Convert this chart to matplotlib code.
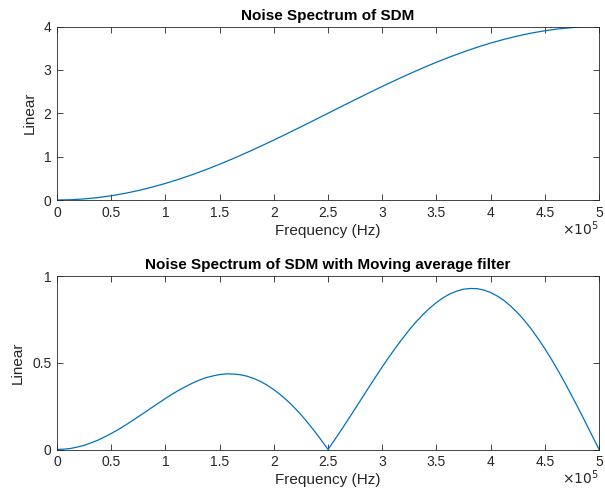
import matplotlib.pyplot as plt

plt.rcParams['font.family'] = ['Liberation Sans', 'DejaVu Sans']

# frequency points (Hz), top panel
freq = [0, 12500, 25000, 37500, 50000, 62500, 75000, 87500, 100000,
        112500, 125000, 137500, 150000, 162500, 175000, 187500, 200000,
        212500, 225000, 237500, 250000, 262500, 275000, 287500, 300000,
        312500, 325000, 337500, 350000, 362500, 375000, 387500, 400000,
        412500, 425000, 437500, 450000, 462500, 475000, 487500, 500000]

# noise spectrum of SDM (linear)
sdm = [0.000, 0.006, 0.025, 0.055, 0.098, 0.152, 0.218, 0.295, 0.382,
       0.479, 0.586, 0.701, 0.824, 0.955, 1.092, 1.235, 1.382,
       1.533, 1.687, 1.843, 2.000, 2.157, 2.313, 2.467, 2.618,
       2.765, 2.908, 3.045, 3.176, 3.299, 3.414, 3.521, 3.618,
       3.705, 3.782, 3.848, 3.902, 3.945, 3.975, 3.994, 4.000]

# frequency points (Hz), bottom panel
freq_ma = [0, 6250, 12500, 18750, 25000, 31250, 37500, 43750, 50000,
           56250, 62500, 68750, 75000, 81250, 87500, 93750, 100000,
           106250, 112500, 118750, 125000, 131250, 137500, 143750, 150000,
           156250, 162500, 168750, 175000, 181250, 187500, 193750, 200000,
           206250, 212500, 218750, 225000, 231250, 237500, 243750, 250000,
           256250, 262500, 268750, 275000, 281250, 287500, 293750, 300000,
           306250, 312500, 318750, 325000, 331250, 337500, 343750, 350000,
           356250, 362500, 368750, 375000, 381250, 387500, 393750, 400000,
           406250, 412500, 418750, 425000, 431250, 437500, 443750, 450000,
           456250, 462500, 468750, 475000, 481250, 487500, 493750, 500000]

# noise spectrum after moving average filter (linear)
sdm_ma = [0.000, 0.002, 0.006, 0.014, 0.024, 0.038, 0.053, 0.072, 0.092,
          0.114, 0.138, 0.163, 0.189, 0.215, 0.242, 0.268, 0.294,
          0.319, 0.342, 0.363, 0.383, 0.400, 0.414, 0.424, 0.432,
          0.436, 0.435, 0.431, 0.423, 0.410, 0.393, 0.371, 0.345,
          0.315, 0.281, 0.243, 0.201, 0.155, 0.106, 0.054, 0.000,
          0.057, 0.115, 0.175, 0.235, 0.296, 0.357, 0.417, 0.476,
          0.533, 0.588, 0.640, 0.690, 0.736, 0.777, 0.815, 0.847,
          0.875, 0.897, 0.913, 0.924, 0.928, 0.927, 0.919, 0.905,
          0.884, 0.858, 0.825, 0.787, 0.743, 0.694, 0.639, 0.581,
          0.518, 0.451, 0.381, 0.308, 0.233, 0.156, 0.078, 0.000]

xticks = [0, 50000, 100000, 150000, 200000, 250000, 300000, 350000, 400000, 450000, 500000]
xticklabels = ['0', '0.5', '1', '1.5', '2', '2.5', '3', '3.5', '4', '4.5', '5']

line_color = '#0072BD'
axis_color = '#262626'

fig = plt.figure(figsize=(6.05, 5.0), dpi=100)
ax1 = fig.add_axes([0.0942, 0.600, 0.896, 0.347])
ax2 = fig.add_axes([0.0942, 0.101, 0.896, 0.347])


def style(ax, yticks, yticklabels, title):
    ax.set_xlim(0, 500000)
    ax.set_xticks(xticks)
    ax.set_xticklabels(xticklabels)
    ax.set_yticks(yticks)
    ax.set_yticklabels(yticklabels)
    ax.tick_params(direction='in', top=True, right=True, length=4,
                   width=0.6, colors=axis_color, labelsize=10, pad=4)
    for s in ax.spines.values():
        s.set_color(axis_color)
        s.set_linewidth(0.6)
    ax.set_xlabel('Frequency (Hz)', fontsize=11, color=axis_color, labelpad=3)
    ax.set_ylabel('Linear', fontsize=11, color=axis_color, labelpad=5)
    ax.set_title(title, fontsize=11, fontweight='bold', pad=5)
    ax.text(1.0, -0.165, r'$\times10^5$', transform=ax.transAxes,
            ha='right', va='center', fontsize=10, color=axis_color)


ax1.plot(freq, sdm, color=line_color, lw=0.9)
ax1.set_ylim(0, 4)
style(ax1, [0, 1, 2, 3, 4], ['0', '1', '2', '3', '4'], 'Noise Spectrum of SDM')

ax2.plot(freq_ma, sdm_ma, color=line_color, lw=0.9)
ax2.set_ylim(0, 1)
style(ax2, [0, 0.5, 1], ['0', '0.5', '1'],
      'Noise Spectrum of SDM with Moving average filter')

fig.savefig('out.png', dpi=100)
